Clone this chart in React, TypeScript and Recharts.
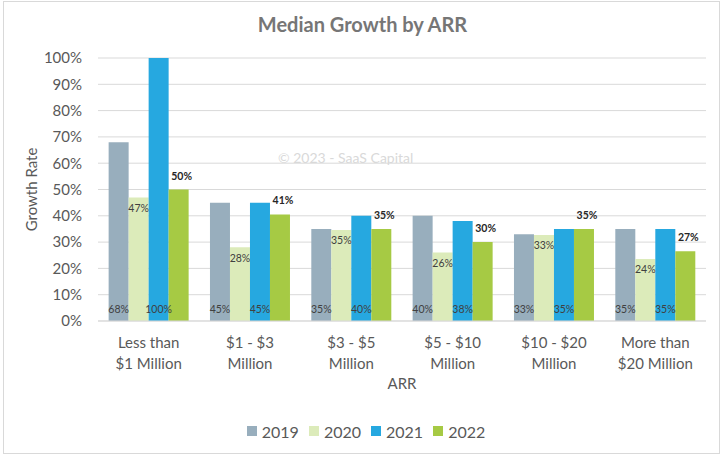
import React from "react";
import {
  BarChart,
  Bar,
  XAxis,
  YAxis,
  CartesianGrid,
  Legend,
  LabelList,
} from "recharts";

const categories = [
  "Less than|$1 Million",
  "$1 - $3|Million",
  "$3 - $5|Million",
  "$5 - $10|Million",
  "$10 - $20|Million",
  "More than|$20 Million",
];

const growth2019 = [68, 45, 35, 40, 33, 35];
const growth2020 = [47, 28, 34.6, 26, 32.7, 23.6];
const growth2021 = [100, 45, 40, 38, 35, 35];
const growth2022 = [50, 40.5, 35, 30, 35, 26.5];

const yTicks = [0, 10, 20, 30, 40, 50, 60, 70, 80, 90, 100];

const seriesColors = {
  y2019: "#98aebd",
  y2020: "#dcebba",
  y2021: "#26a8e0",
  y2022: "#a6ca44",
};

const data = categories.map((name, i) => ({
  name,
  y2019: growth2019[i],
  y2020: growth2020[i],
  y2021: growth2021[i],
  y2022: growth2022[i],
}));

const font = "Lato, 'Open Sans', sans-serif";
const pct = (v: any) => `${Math.round(Number(v))}%`;

function CategoryTick({ x, y, payload }: any) {
  const lines = String(payload.value).split("|");
  return (
    <text
      x={x}
      y={y}
      textAnchor="middle"
      fill="#595959"
      fontSize={15}
      fontFamily={font}
    >
      {lines.map((line, i) => (
        <tspan key={i} x={x} dy={i === 0 ? 27 : 21}>
          {line}
        </tspan>
      ))}
    </text>
  );
}

function YearLegend({ payload }: any) {
  return (
    <div
      style={{
        display: "flex",
        justifyContent: "center",
        gap: 10,
        height: 24,
        alignItems: "center",
        fontFamily: font,
        fontSize: 16,
        color: "#595959",
        paddingLeft: 26,
      }}
    >
      {(payload || []).map((item: any) => (
        <div key={item.value} style={{ display: "flex", alignItems: "center" }}>
          <span
            style={{
              width: 10,
              height: 10,
              background: item.color,
              marginRight: 5,
              display: "inline-block",
            }}
          />
          {item.value}
        </div>
      ))}
    </div>
  );
}

const labelStyle = { fontSize: 10.5, fill: "#404040", fontFamily: font };

export default function App() {
  return (
    <div
      style={{
        position: "absolute",
        left: 0,
        top: 0,
        width: 725,
        height: 457,
        background: "#fff",
        fontFamily: font,
      }}
    >
      <div
        style={{
          position: "absolute",
          left: 3,
          top: 1,
          width: 717,
          height: 453,
          border: "1px solid #d9d9d9",
          boxSizing: "border-box",
        }}
      />
      <div
        style={{
          position: "absolute",
          top: 12,
          left: 0,
          width: 725,
          textAlign: "center",
          fontSize: 20,
          fontWeight: 700,
          color: "#767676",
        }}
      >
        Median Growth by ARR
      </div>
      <BarChart
        width={725}
        height={457}
        data={data}
        margin={{ top: 58, right: 19, bottom: 14, left: 0 }}
        barCategoryGap="10.5%"
        barGap={0}
      >
        <CartesianGrid vertical={false} stroke="#d9d9d9" />
        <XAxis
          dataKey="name"
          tick={<CategoryTick />}
          tickLine={false}
          tickSize={0}
          tickMargin={0}
          axisLine={{ stroke: "#d9d9d9" }}
          height={98}
          interval={0}
          label={{
            value: "ARR",
            position: "insideBottom",
            offset: 30,
            fill: "#595959",
            fontSize: 15,
            fontFamily: font,
          }}
        />
        <YAxis
          width={98}
          domain={[0, 100]}
          ticks={yTicks}
          tickFormatter={(v) => `${v}%`}
          tick={{ fill: "#595959", fontSize: 15, fontFamily: font }}
          tickLine={false}
          tickSize={0}
          tickMargin={16}
          axisLine={false}
          label={{
            value: "Growth Rate",
            angle: -90,
            position: "insideLeft",
            offset: 32,
            fill: "#595959",
            fontSize: 15,
            fontFamily: font,
            style: { textAnchor: "middle" },
          }}
        />
        <Legend verticalAlign="bottom" content={<YearLegend />} />
        <Bar dataKey="y2019" name="2019" fill={seriesColors.y2019} isAnimationActive={false}>
          <LabelList dataKey="y2019" position="insideBottom" offset={8} formatter={pct} style={labelStyle} />
        </Bar>
        <Bar dataKey="y2020" name="2020" fill={seriesColors.y2020} isAnimationActive={false}>
          <LabelList dataKey="y2020" position="insideTop" offset={7} formatter={pct} style={labelStyle} />
        </Bar>
        <Bar dataKey="y2021" name="2021" fill={seriesColors.y2021} isAnimationActive={false}>
          <LabelList dataKey="y2021" position="insideBottom" offset={8} formatter={pct} style={labelStyle} />
        </Bar>
        <Bar dataKey="y2022" name="2022" fill={seriesColors.y2022} isAnimationActive={false}>
          <LabelList
            dataKey="y2022"
            position="top"
            offset={10}
            dx={3}
            formatter={pct}
            style={{ ...labelStyle, fill: "#262626", fontWeight: 700 }}
          />
        </Bar>
      </BarChart>
      <div
        style={{
          position: "absolute",
          left: 278,
          top: 149,
          fontSize: 14,
          color: "#d9d9d9",
          pointerEvents: "none",
        }}
      >
        © 2023 - SaaS Capital
      </div>
    </div>
  );
}
